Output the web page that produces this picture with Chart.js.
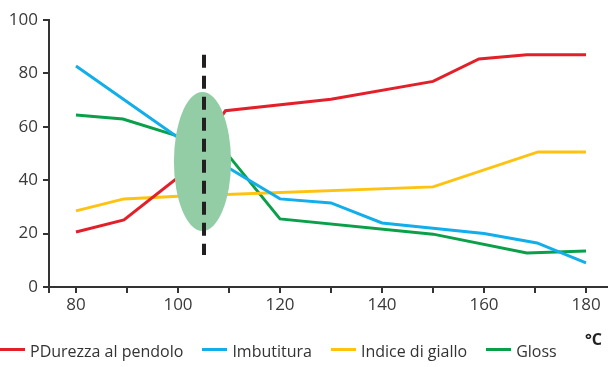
<!DOCTYPE html>
<html>
<head>
<meta charset="utf-8"/>
<style>
  html,body{margin:0;padding:0;background:#fff;}
  .wrap{position:relative;width:608px;height:367px;overflow:hidden;}
  canvas{position:absolute;top:0;left:0;}
  .legend{position:absolute;left:0;top:340px;display:flex;align-items:center;gap:19px;
    font-family:"Open Sans",sans-serif;font-size:16px;color:#333;white-space:nowrap;}
  .item{display:flex;align-items:center;}
  .swatch{width:25px;height:3px;margin-right:5px;margin-top:-3px;}
  .unit{position:absolute;right:6px;top:328px;font-family:"Open Sans",sans-serif;
    font-size:16px;font-weight:bold;color:#222;}
</style>
</head>
<body>
<div class="wrap">
  <canvas id="c" width="608" height="367"></canvas>
  <div class="unit">°C</div>
  <div class="legend" id="legend"></div>
</div>
<script src="https://cdn.jsdelivr.net/npm/chart.js@4.4.0/dist/chart.umd.min.js"></script>
<script>
  // valori (temperatura °C -> valore)
  const xDurezza   = [80, 89.4, 100, 109.3, 130, 150, 159, 168.4, 180];
  const durezza    = [20.6, 25.1, 41, 66, 70.3, 77, 85.4, 87, 87];
  const xImbut     = [80, 100, 120, 130, 140, 160, 170.4, 180];
  const imbutitura = [82.8, 56, 33, 31.5, 24, 20, 16.5, 9];
  const xGiallo    = [80, 89.4, 100, 150, 170.6, 180];
  const giallo     = [28.5, 33, 34, 37.5, 50.6, 50.6];
  const xGloss     = [80, 89.2, 100, 110, 120, 150, 168.4, 180];
  const gloss      = [64.4, 62.9, 56.5, 49, 25.5, 19.8, 12.7, 13.5];

  const xTicks = [80, 90, 100, 110, 120, 130, 140, 150, 160, 170, 180];
  const yTicks = [0, 20, 40, 60, 80, 100];

  // zona evidenziata + linea tratteggiata
  const zone   = { x: 104.8, y: 47, rx: 5.6, ry: 26 };
  const marker = { x: 105.1, top: 87, bottom: 12 };

  const X_MIN = 74.71, X_MAX = 184.31;
  const AXIS = "#333";

  const pts = (xs, ys) => xs.map((x, i) => ({ x, y: ys[i] }));

  const series = [
    { label: "PDurezza al pendolo", color: "#E3202A", data: pts(xDurezza, durezza) },
    { label: "Imbutitura",          color: "#12AEEA", data: pts(xImbut, imbutitura) },
    { label: "Indice di giallo",    color: "#FFC20E", data: pts(xGiallo, giallo) },
    { label: "Gloss",               color: "#0AA04A", data: pts(xGloss, gloss) },
  ];

  const zonePlugin = {
    id: "zone",
    afterDatasetsDraw(chart) {
      const { ctx, scales: { x, y } } = chart;
      const cx = x.getPixelForValue(zone.x), cy = y.getPixelForValue(zone.y);
      const rx = x.getPixelForValue(zone.x + zone.rx) - cx;
      const ry = cy - y.getPixelForValue(zone.y + zone.ry);
      ctx.save();
      ctx.fillStyle = "#93CDA6";
      ctx.beginPath();
      ctx.ellipse(cx, cy, rx, ry, 0, 0, Math.PI * 2);
      ctx.fill();
      const mx = x.getPixelForValue(marker.x);
      ctx.strokeStyle = "#231F20";
      ctx.lineWidth = 4;
      ctx.setLineDash([13, 8]);
      ctx.beginPath();
      ctx.moveTo(mx, y.getPixelForValue(marker.top));
      ctx.lineTo(mx, y.getPixelForValue(marker.bottom));
      ctx.stroke();
      ctx.restore();
    }
  };

  const tickFont = { family: "'Open Sans', sans-serif", size: 17 };

  new Chart(document.getElementById("c"), {
    type: "line",
    data: {
      datasets: series.map(s => ({
        label: s.label, data: s.data,
        borderColor: s.color, backgroundColor: s.color,
        borderWidth: 3, pointRadius: 0, tension: 0,
      }))
    },
    options: {
      responsive: false,
      animation: false,
      layout: { padding: { top: 20, left: 0, right: 0, bottom: 0 } },
      plugins: { legend: { display: false }, tooltip: { enabled: false } },
      scales: {
        x: {
          type: "linear", min: X_MIN, max: X_MAX,
          afterBuildTicks: sc => { sc.ticks = [X_MIN, ...xTicks].map(v => ({ value: v })); },
          afterFit: sc => { sc.height = 80; },
          grid: { drawOnChartArea: false, drawTicks: true, tickLength: 6, color: AXIS, lineWidth: 2 },
          border: { display: true, color: AXIS, width: 2 },
          ticks: {
            font: tickFont, color: "#3a3a3a", padding: 2, maxRotation: 0, autoSkip: false,
            callback: v => (v % 20 === 0 ? v : "")
          }
        },
        y: {
          min: 0, max: 100,
          afterBuildTicks: sc => { sc.ticks = yTicks.map(v => ({ value: v })); },
          afterFit: sc => { sc.width = 49; },
          grid: { drawOnChartArea: false, drawTicks: true, tickLength: 6, color: AXIS, lineWidth: 2 },
          border: { display: true, color: AXIS, width: 2 },
          ticks: { font: tickFont, color: "#3a3a3a", padding: 5 }
        }
      }
    },
    plugins: [zonePlugin]
  });

  const legend = document.getElementById("legend");
  series.forEach(s => {
    const it = document.createElement("div");
    it.className = "item";
    it.innerHTML = `<span class="swatch" style="background:${s.color}"></span><span>${s.label}</span>`;
    legend.appendChild(it);
  });
</script>
</body>
</html>
